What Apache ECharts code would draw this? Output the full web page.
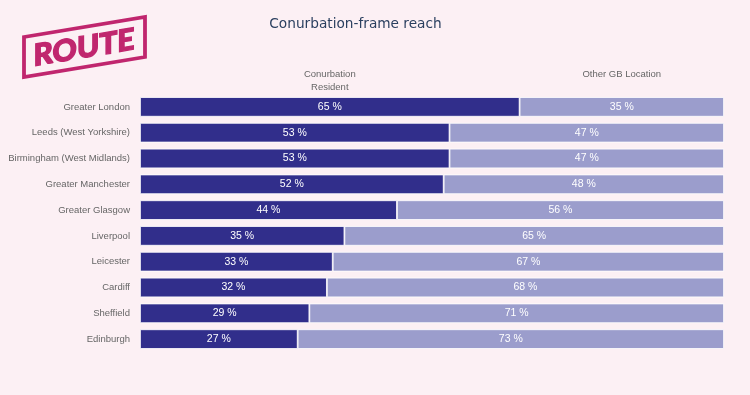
<!DOCTYPE html>
<html><head><meta charset="utf-8">
<script src="https://cdn.jsdelivr.net/npm/echarts@6/dist/echarts.min.js"></script>
<style>html,body{margin:0;padding:0;background:#fcf0f4;}#c{width:750px;height:395px;}</style>
</head><body><div id="c"></div>
<script>
const categories = ["Greater London","Leeds (West Yorkshire)","Birmingham (West Midlands)","Greater Manchester","Greater Glasgow","Liverpool","Leicester","Cardiff","Sheffield","Edinburgh"];
const residentValues = [65,53,53,52,44,35,33,32,29,27];
const otherValues = [35,47,47,48,56,65,67,68,71,73];
const seriesNames = ["Conurbation\nResident","Other GB Location"];

const chart = echarts.init(document.getElementById('c'));
const labelCfg = {show:true, position:'inside', color:'#ffffff', fontFamily:'Liberation Sans', fontSize:10.5, formatter: p => p.value + ' %'};
const logoBox = {type:'polygon', shape:{points:[[24,37],[145,17],[145,57],[24,77]]},
   style:{fill:'none', stroke:'#c0266e', lineWidth:3.8}};
chart.setOption({
  backgroundColor:'#fcf0f4',
  animation:false,
  title:{text:'Conurbation-frame reach', left:350.5, top:12, textAlign:'center',
    textStyle:{fontFamily:'DejaVu Sans', fontWeight:'normal', fontSize:13.7, color:'#2a3f5f'}},
  grid:{left:140, right:26, top:94, height:258},
  xAxis:{type:'value', min:0, max:100, show:false},
  yAxis:{type:'category', data:categories, inverse:true,
    axisLine:{show:false}, axisTick:{show:false}, splitLine:{show:false},
    axisLabel:{color:'#666666', fontFamily:'Liberation Sans', fontSize:9.5, margin:10}},
  series:[
    {name:seriesNames[0], type:'bar', stack:'a', data:residentValues, barCategoryGap:'24%',
     itemStyle:{color:'#312e8b', borderColor:'#ffffff', borderWidth:0.8}, label:labelCfg},
    {name:seriesNames[1], type:'bar', stack:'a', data:otherValues,
     itemStyle:{color:'#9b9dcc', borderColor:'#ffffff', borderWidth:0.8}, label:labelCfg}
  ]
});
// header annotations positioned at segment centres of the first row
const first = 0;
chart.setOption({graphic: [logoBox,
  {type:'text', x:chart.convertToPixel({xAxisIndex:0}, residentValues[first]/2), y:80.5,
   style:{text:seriesNames[0], textAlign:'center', textVerticalAlign:'middle', font:'9.5px "Liberation Sans"', fill:'#666666', lineHeight:13}},
  {type:'text', x:chart.convertToPixel({xAxisIndex:0}, residentValues[first] + otherValues[first]/2), y:74,
   style:{text:seriesNames[1], textAlign:'center', textVerticalAlign:'middle', font:'9.5px "Liberation Sans"', fill:'#666666'}}
]});
// skewed logo wordmark
const logoText = new echarts.graphic.Text({
  x:84, y:48, skewY:0.165, z:10,
  style:{text:'ROUTE', align:'center', verticalAlign:'middle', font:'900 30px Lato',
    fill:'#c0266e', stroke:'#c0266e', lineWidth:1.3}
});
chart.getZr().add(logoText);
</script></body></html>
